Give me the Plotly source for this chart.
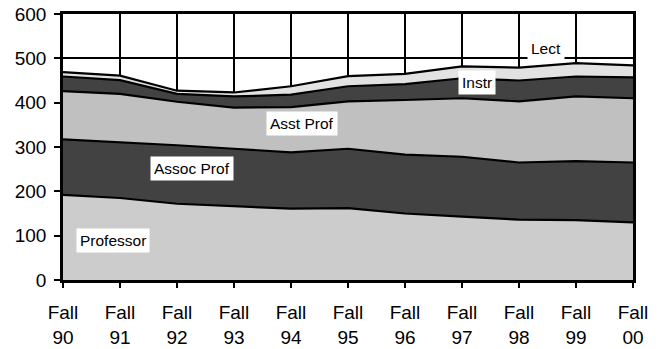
import plotly.graph_objects as go

# Faculty headcount by rank, Fall 1990 - Fall 2000
terms = ["Fall 90", "Fall 91", "Fall 92", "Fall 93", "Fall 94", "Fall 95",
         "Fall 96", "Fall 97", "Fall 98", "Fall 99", "Fall 00"]
tick_top = ["Fall"] * 11
tick_bottom = ["90", "91", "92", "93", "94", "95", "96", "97", "98", "99", "00"]

professor = [192, 185, 172, 167, 161, 162, 150, 143, 136, 135, 130]
assoc_prof = [125, 126, 132, 129, 127, 134, 133, 135, 129, 133, 135]
asst_prof = [109, 109, 98, 93, 102, 107, 123, 132, 138, 146, 145]
instr = [33, 31, 18, 25, 28, 34, 36, 45, 47, 45, 47]
lect = [10, 10, 7, 9, 19, 23, 23, 27, 29, 30, 27]

series = [
    ("Professor", professor, "#cccccc"),
    ("Assoc Prof", assoc_prof, "#424242"),
    ("Asst Prof", asst_prof, "#c0c0c0"),
    ("Instr", instr, "#424242"),
    ("Lect", lect, "#e2e2e2"),
]

# in-chart labels: (text, x position in category units, y value)
label_pos = [
    ("Professor", 0.88, 88),
    ("Assoc Prof", 2.27, 252),
    ("Asst Prof", 4.2, 352),
    ("Instr", 7.26, 446),
    ("Lect", 8.48, 522),
]

xs = list(range(len(terms)))
FONT = "Liberation Sans, Arial, sans-serif"

fig = go.Figure()
for name, vals, color in series:
    fig.add_trace(go.Scatter(
        x=xs, y=vals, name=name, mode="lines", stackgroup="one",
        fillcolor=color, line=dict(color="black", width=2.2),
        hoverinfo="name+y",
    ))

for text, lx, ly in label_pos:
    fig.add_annotation(
        x=lx, y=ly, text=text, showarrow=False,
        font=dict(family=FONT, size=15.5, color="black"),
        bgcolor="white", borderpad=3,
    )

# second bottom axis carries the year row of the two-line category labels
fig.add_trace(go.Scatter(x=[0, 10], y=[None, None], xaxis="x2",
                         showlegend=False, hoverinfo="skip"))

fig.update_layout(
    width=660, height=349,
    margin=dict(l=63, r=27, t=14, b=69, autoexpand=False),
    paper_bgcolor="white", plot_bgcolor="white",
    showlegend=False,
    font=dict(family=FONT, color="black"),
    xaxis=dict(
        range=[0, 10], tickmode="array", tickvals=xs, ticktext=tick_top,
        showgrid=True, gridcolor="black", gridwidth=2,
        showline=True, linecolor="black", linewidth=2.5, mirror=True,
        ticks="outside", ticklen=5, tickwidth=2, tickcolor="black",
        tickfont=dict(size=19, family=FONT, color="black"),
        ticklabelstandoff=8, zeroline=False, automargin=False,
    ),
    xaxis2=dict(
        range=[0, 10], overlaying="x", anchor="y", side="bottom",
        tickmode="array", tickvals=xs, ticktext=tick_bottom,
        showgrid=False, showline=False, ticks="", zeroline=False,
        tickfont=dict(size=19, family=FONT, color="black"),
        ticklabelstandoff=44, automargin=False,
    ),
    yaxis=dict(
        range=[0, 600], tickmode="array", tickvals=[0, 100, 200, 300, 400, 500, 600],
        showgrid=True, gridcolor="black", gridwidth=2,
        showline=True, linecolor="black", linewidth=2.5, mirror=True,
        ticks="outside", ticklen=6, tickwidth=2, tickcolor="black",
        tickfont=dict(size=19, family=FONT, color="black"),
        ticklabelstandoff=4, zeroline=False, automargin=False,
    ),
)

fig.write_html("out.html")
